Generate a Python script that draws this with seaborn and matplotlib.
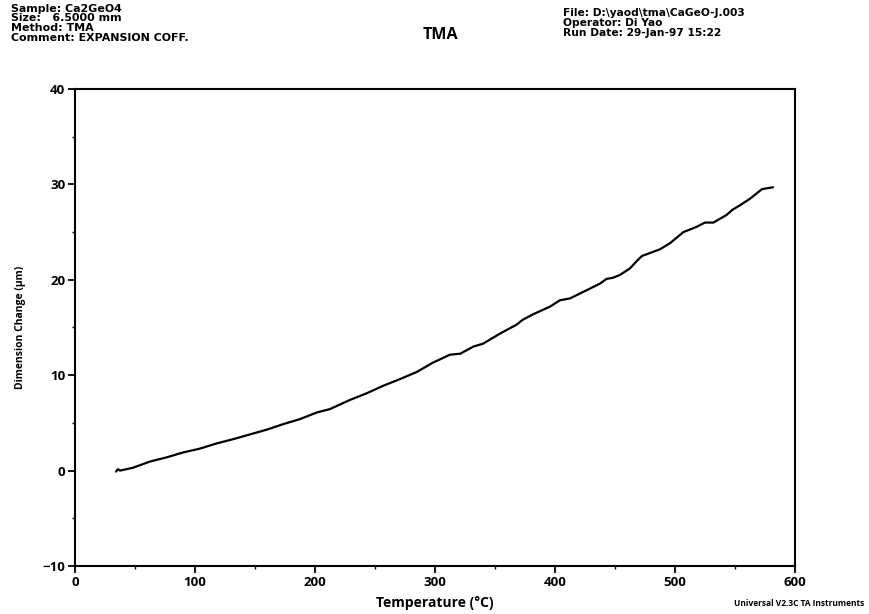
import numpy as np
import pandas as pd
import matplotlib
matplotlib.use("Agg")
import matplotlib.pyplot as plt
import seaborn as sns
from matplotlib.ticker import MultipleLocator

# Dilatometer trace: temperature (°C) vs dimension change (µm)
temperature = [34.2, 35.8, 37.5, 48.3, 62.5, 76.7, 90.0, 104.0, 118.0, 132.0,
               146.0, 160.0, 173.0, 187.5, 201.7, 212.5, 229.0, 243.0, 257.0,
               271.0, 285.0, 298.0, 312.5, 321.0, 332.0, 340.0, 354.0, 368.0,
               373.0, 382.0, 396.0, 404.0, 412.5, 423.0, 437.5, 443.0, 448.0,
               454.0, 462.5, 468.0, 472.5, 479.0, 487.5, 496.0, 507.0, 518.0,
               525.0, 532.0, 543.0, 548.0, 554.0, 562.5, 572.5, 577.0, 581.7]
dimension_change = [-0.1, 0.15, 0.0, 0.3, 0.95, 1.4, 1.9, 2.3, 2.85, 3.3,
                    3.8, 4.3, 4.85, 5.4, 6.1, 6.45, 7.4, 8.1, 8.9,
                    9.6, 10.35, 11.3, 12.15, 12.25, 13.0, 13.3, 14.35, 15.3,
                    15.8, 16.4, 17.2, 17.85, 18.05, 18.7, 19.6, 20.1, 20.2,
                    20.5, 21.2, 21.95, 22.5, 22.8, 23.2, 23.85, 25.0, 25.55,
                    26.0, 26.0, 26.8, 27.35, 27.8, 28.5, 29.5, 29.6, 29.7]

x_ticks = [0, 100, 200, 300, 400, 500, 600]
y_ticks = [-10, 0, 10, 20, 30, 40]

header_left = ["Sample: Ca2GeO4", "Size:   6.5000 mm", "Method: TMA",
               "Comment: EXPANSION COFF."]
header_right = ["File: D:\\yaod\\tma\\CaGeO-J.003", "Operator: Di Yao",
                "Run Date: 29-Jan-97 15:22"]

sns.set_theme(style="white")
plt.rcParams["font.family"] = ["Open Sans", "DejaVu Sans"]
plt.rcParams.update({"text.color": "black", "axes.labelcolor": "black",
                     "xtick.color": "black", "ytick.color": "black"})

df = pd.DataFrame({"Temperature": temperature, "Change": dimension_change})

fig = plt.figure(figsize=(8.7, 6.14), dpi=100)
ax = fig.add_axes([75 / 870, 1 - 566 / 614, 720 / 870, 477 / 614])

sns.lineplot(data=df, x="Temperature", y="Change", ax=ax, color="black",
             linewidth=1.6, estimator=None, sort=False)

ax.set_xlim(0, 600)
ax.set_ylim(-10, 40)
ax.set_xticks(x_ticks)
ax.set_yticks(y_ticks)
ax.xaxis.set_minor_locator(MultipleLocator(50))
ax.yaxis.set_minor_locator(MultipleLocator(5))
ax.tick_params(axis="both", which="major", direction="out", length=5,
               width=1.3, color="black", labelcolor="black", labelsize=9.5,
               pad=2, bottom=True, left=True)
ax.tick_params(axis="both", which="minor", direction="out", length=2.5,
               width=1.0, color="black", bottom=True, left=True)
for lbl in ax.get_xticklabels() + ax.get_yticklabels():
    lbl.set_fontweight("bold")
for side in ["left", "right", "top", "bottom"]:
    ax.spines[side].set_visible(True)
    ax.spines[side].set_color("black")
    ax.spines[side].set_linewidth(1.5)

ax.set_xlabel("Temperature (°C)", fontsize=10, fontweight="bold", labelpad=5,
              color="black")
ax.set_ylabel("Dimension Change (µm)", fontsize=7.5, fontweight="bold",
              labelpad=12, color="black")
ax.grid(False)

# Instrument run header
hdr_font = ["DejaVu Sans"]
for i, line in enumerate(header_left):
    fig.text(11 / 870, 1 - (8.5 + i * 9.9) / 614, line, fontsize=7.9,
             fontweight="bold", va="center", ha="left", family=hdr_font,
             color="black")
for i, line in enumerate(header_right):
    fig.text(563 / 870, 1 - (13.5 + i * 10) / 614, line, fontsize=7.7,
             fontweight="bold", va="center", ha="left", family=hdr_font,
             color="black")
fig.text(440 / 870, 1 - 35 / 614, "TMA", fontsize=11.5, fontweight="bold",
         va="center", ha="center", color="black")
fig.text(864 / 870, 1 - 603 / 614, "Universal V2.3C TA Instruments",
         fontsize=6, fontweight="bold", va="center", ha="right", color="black")

fig.savefig("out.png", dpi=100, facecolor="white")
